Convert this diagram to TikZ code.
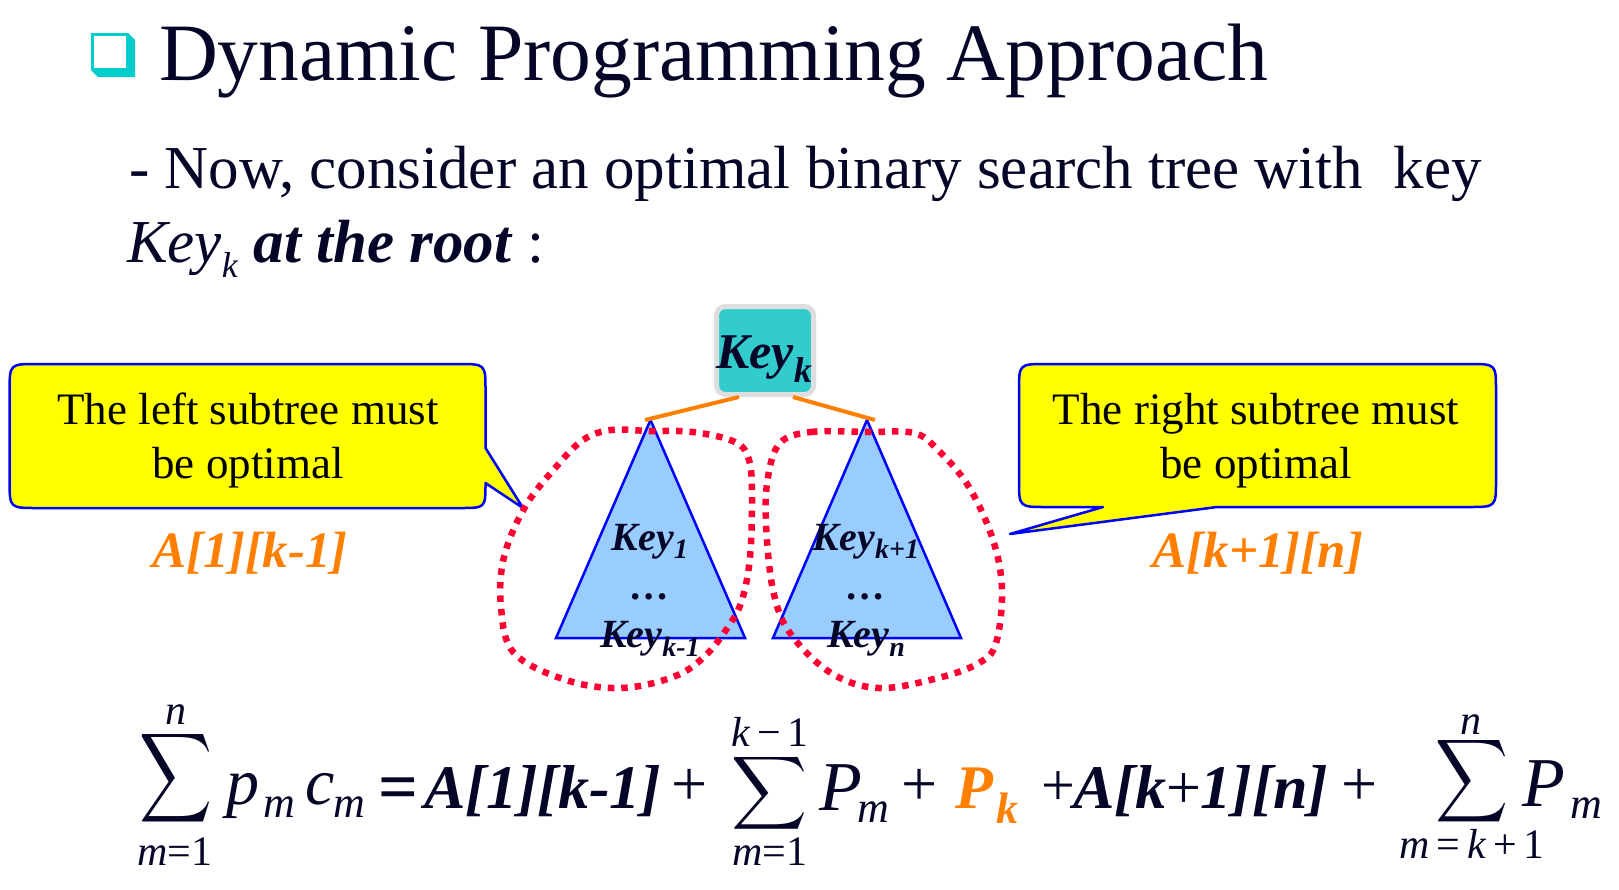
\documentclass[tikz,border=0pt]{standalone}
\usepackage{fontspec}
\setmainfont{Liberation Serif}
\usepackage{graphicx}
\definecolor{navy}{RGB}{5,5,40}
\definecolor{orng}{RGB}{255,128,0}
\definecolor{tealbox}{RGB}{51,204,204}
\definecolor{bullteal}{RGB}{0,204,204}
\definecolor{trifill}{RGB}{153,204,255}
\definecolor{reddot}{RGB}{255,0,51}
\definecolor{ylw}{RGB}{255,255,0}
\definecolor{keygray}{RGB}{222,222,222}
\newcommand{\fs}[1]{\fontsize{#1}{#1}\selectfont}
\newcommand{\sbs}[3]{\raisebox{-#2pt}{\fontsize{#1}{#1}\selectfont #3}}
\begin{document}
\begin{tikzpicture}[x=1pt,y=-1pt,
  every node/.style={inner sep=0pt,outer sep=0pt,text=navy},
  callout/.style={draw=blue,line width=2.5pt,fill=ylw,line join=round},
  tristyle/.style={draw=blue,line width=2.5pt,fill=trifill,line join=miter},
  blob/.style={draw=reddot,line width=6.5pt,dash pattern=on 6.5pt off 7pt},
  branch/.style={draw=orng,line width=4pt},
  ctext/.style={anchor=base,font=\fs{45},text=black},
  orlabel/.style={anchor=base,font=\fs{51}\bfseries\itshape,text=orng},
  trikey/.style={anchor=base,font=\fs{40}\bfseries\itshape},
  mathit/.style={anchor=base west,font=\fs{66}\itshape},
  subm/.style={anchor=base west,font=\fs{44}\itshape},
  lim/.style={anchor=base,font=\fs{42}},
  bi/.style={anchor=base west,font=\fs{62}\bfseries\itshape},
  op/.style={anchor=base west,font=\fs{64}},
  bigsum/.style={anchor=north west}]
\useasboundingbox (0,0) rectangle (1619,889);
\fill[white] (0,0) rectangle (1619,889);

% bullet
\fill[bullteal] (91,33) -- (128,33) -- (135,40) -- (135,77) -- (98,77) -- (91,70) -- cycle;
\fill[white] (94,35.5) rectangle (126,68);

% heading texts
\node[anchor=base west,font=\fs{81.5}] (title) at (159,80) {Dynamic Programming Approach};
\node[anchor=base west,font=\fs{61}] (line2) at (129,188) {- Now, consider an optimal binary search tree with\ \ key};
\node[anchor=base west,font=\fs{61}] (line3) at (127,262) {\textit{Key}\sbs{36}{15}{\textit{k}} \textbf{\textit{at the root}} :};

% callouts
\draw[callout] (36.6,364) -- (458.5,364) .. controls (485.5,364) .. (485.5,391) -- (485.5,448) -- (523,508) -- (485.5,483) .. controls (485.5,508) .. (460.5,508) -- (36.6,508) .. controls (9.6,508) .. (9.6,481) -- (9.6,391) .. controls (9.6,364) .. (36.6,364) -- cycle;
\draw[callout] (1046,364) -- (1469,364) .. controls (1496,364) .. (1496,391) -- (1496,480) .. controls (1496,507) .. (1469,507) -- (1217,507) -- (1010,534) -- (1103,507) -- (1046,507) .. controls (1019,507) .. (1019,480) -- (1019,391) .. controls (1019,364) .. (1046,364) -- cycle;
\node[ctext] (lt1) at (248,424) {The left subtree must};
\node[ctext] (lt2) at (248,478) {be optimal};
\node[ctext] (rt1) at (1256,424) {The right subtree must};
\node[ctext] (rt2) at (1256,478) {be optimal};
\node[orlabel] (al) at (250,567) {A[1][k-1]};
\node[orlabel] (ar) at (1258,567) {A[k+1][n]};

% root key box
\node[draw=keygray,line width=5pt,fill=tealbox,rounded corners=9pt,minimum width=97pt,minimum height=88pt] (keyk) at (765,350.5) {};
\node[anchor=base,font=\fs{50}\bfseries\itshape] (keyktext) at (764,368) {Key\sbs{36}{14}{k}};

% subtrees
\coordinate (lapex) at (650.5,420);
\coordinate (rapex) at (867,420);
\draw[tristyle] (lapex) -- (556,638) -- (745,638) -- cycle;
\draw[tristyle] (rapex) -- (773,638) -- (961,638) -- cycle;
\coordinate (kl) at (739,397);
\coordinate (kr) at (793,397);
\coordinate (la) at (645,420);
\coordinate (ra) at (875,420);
\draw[branch] (kl) -- (la);
\draw[branch] (kr) -- (ra);

\node[trikey] (k1) at (650,550) {Key\sbs{28}{8}{1}};
\node[trikey] (d1) at (650,599) {…};
\node[trikey] (km1) at (650,647) {Key\sbs{28}{9}{k-1}};
\node[trikey] (kp1) at (866,550) {Key\sbs{28}{8}{k+1}};
\node[trikey] (d2) at (866,599) {…};
\node[trikey] (kn) at (866,647) {Key\sbs{28}{9}{n}};

% dotted outlines
\draw[blob] plot[smooth cycle,tension=0.6] coordinates {(611,430) (649,431) (693,432) (735,442) (749,460) (752,497) (750,557) (742,600) (728,627) (704,657) (673,677) (621,688) (566,680) (514,653) (501,607) (504,557) (525,507) (556,467) (583,440)};
\draw[blob] plot[smooth cycle,tension=0.6] coordinates {(780,443) (811,432) (869,432) (914,433) (938,450) (969,487) (993,540) (1002,590) (996,643) (979,663) (938,678) (879,688) (831,673) (790,633) (773,590) (766,523) (768,477)};

% formula
\node[bigsum] (sum1) at (139,728) {\resizebox*{73pt}{100pt}{$\displaystyle\sum$}};
\node[lim] (s1top) at (176,724) {\textit{n}};
\node[lim] (s1bot) at (175,865) {\textit{m}=1};
\node[mathit] (p) at (226,804) {p};
\node[subm] (pm) at (263,817) {m};
\node[mathit] (c) at (305,804) {c};
\node[subm] (cm) at (333,817) {m};
\node[op,font=\fs{70}\bfseries] (eq) at (378,810) {=};
\node[bi] (a1) at (424,808) {A[1][k-1]};
\node[op] (plus1) at (671,805) {+};
\node[bigsum] (sum2) at (731,752) {\resizebox*{76pt}{82pt}{$\displaystyle\sum$}};
\node[lim] (s2top) at (770,746) {\textit{k}\,−\,1};
\node[lim] (s2bot) at (770,865) {\textit{m}=1};
\node[mathit,font=\fs{70}\itshape] (P1) at (819,810) {P};
\node[subm] (P1m) at (857,822) {m};
\node[op] (plus2) at (901,805) {+};
\node[anchor=base west,font=\fs{62}\bfseries\itshape,text=orng] (Pk) at (955,808) {P};
\node[anchor=base west,font=\fs{44}\bfseries\itshape,text=orng] (Pkk) at (996,823) {k};
\node[op,font=\fs{60}] (plus3) at (1041,805) {+};
\node[bi] (a2) at (1073,808) {A[k\textnormal{+}1][n]};
\node[op] (plus4) at (1341,805) {+};
\node[bigsum] (sum3) at (1435,735) {\resizebox*{73pt}{93pt}{$\displaystyle\sum$}};
\node[lim] (s3top) at (1471,734) {\textit{n}};
\node[lim] (s3bot) at (1472,858) {\textit{m}\,=\,\textit{k}\,+\,1};
\node[mathit,font=\fs{70}\itshape] (P2) at (1522,806) {P};
\node[subm] (P2m) at (1570,818) {m};
\end{tikzpicture}
\end{document}
